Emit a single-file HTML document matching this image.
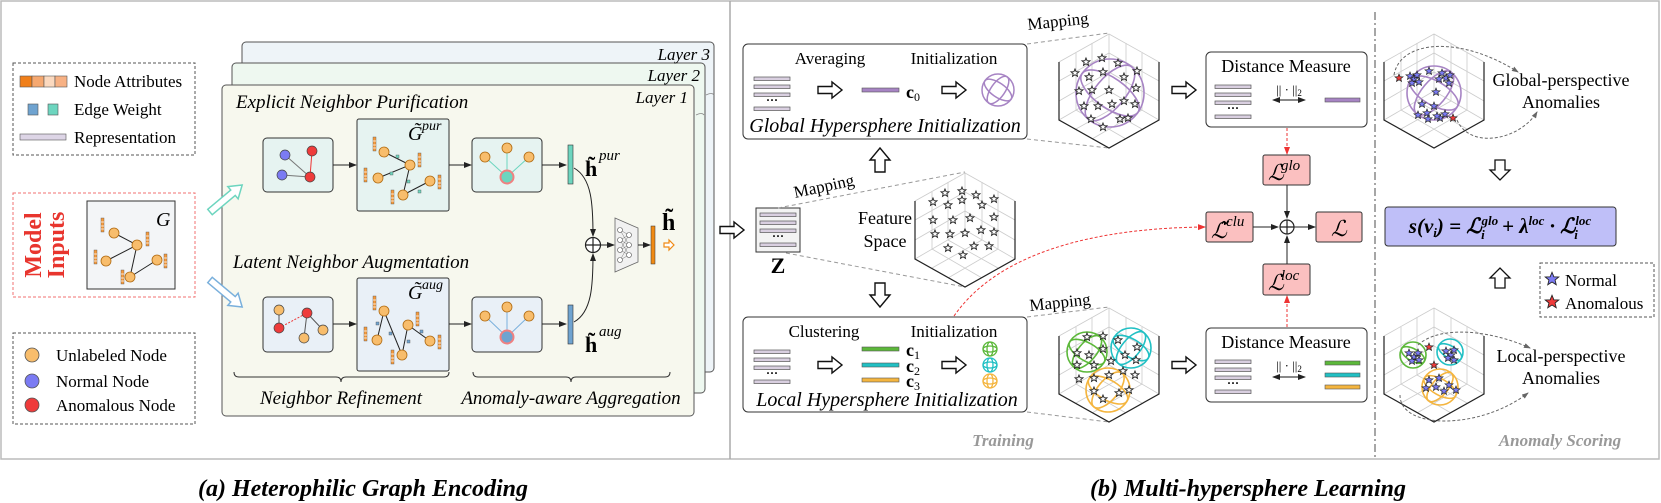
<!DOCTYPE html>
<html><head><meta charset="utf-8"><style>
html,body{margin:0;padding:0;background:#fff;}
svg{display:block;}
text{font-family:"Liberation Serif","Times New Roman",serif;}
</style></head><body>
<svg width="1661" height="503" viewBox="0 0 1661 503" xmlns="http://www.w3.org/2000/svg" font-family="Liberation Serif, serif">
<defs>
<marker id="ah" markerWidth="8" markerHeight="8" refX="7" refY="4" orient="auto" markerUnits="userSpaceOnUse"><path d="M0,1 L8,4 L0,7 z" fill="#222"/></marker>
<marker id="ahs" markerWidth="8" markerHeight="8" refX="1" refY="4" orient="auto" markerUnits="userSpaceOnUse"><path d="M8,1 L0,4 L8,7 z" fill="#222"/></marker>
<marker id="ahr" markerWidth="8" markerHeight="8" refX="7" refY="4" orient="auto" markerUnits="userSpaceOnUse"><path d="M0,1 L8,4 L0,7 z" fill="#e33"/></marker>
<marker id="ahg" markerWidth="7" markerHeight="7" refX="6" refY="3.5" orient="auto" markerUnits="userSpaceOnUse"><path d="M0,1 L7,3.5 L0,6 z" fill="#666"/></marker>
<path id="st" d="M0,-4 L1.1,-1.3 4,-1.2 1.8,0.6 2.5,3.4 0,1.8 -2.5,3.4 -1.8,0.6 -4,-1.2 -1.1,-1.3z"/>
<g id="cube">
  <g stroke="#ccc" stroke-width="0.8" fill="none">
    <path d="M-50,-29 L0,-57 L50,-29 M0,-57 L0,0 M-50,29 L0,0 L50,29"/>
    <path d="M-33,-38 L-33,19 M-17,-48 L-17,10 M17,-48 L17,10 M33,-38 L33,19"/>
    <path d="M-50,-10 L0,-38 L50,-10 M-50,10 L0,-19 L50,10"/>
    <path d="M-33,38 L17,10 M-17,48 L33,19 M33,38 L-17,10 M17,48 L-33,19"/>
  </g>
  <path d="M-50,-29 L-50,29 L0,57 L50,29 L50,-29" stroke="#222" stroke-width="1.2" fill="none"/>
</g>
<g id="bars">
  <rect x="0" y="0" width="36" height="3.5" fill="#d9cfe0" stroke="#555" stroke-width="0.7"/>
  <rect x="0" y="8" width="36" height="3.5" fill="#d9cfe0" stroke="#555" stroke-width="0.7"/>
  <rect x="0" y="16" width="36" height="3.5" fill="#d9cfe0" stroke="#555" stroke-width="0.7"/>
  <text x="18" y="27" font-size="12" text-anchor="middle" font-weight="bold">···</text>
  <rect x="0" y="30" width="36" height="3.5" fill="#d9cfe0" stroke="#555" stroke-width="0.7"/>
</g>
<g id="harrow"><path d="M0,-3.5 L14,-3.5 L14,-8 L24,0 L14,8 L14,3.5 L0,3.5 z" fill="#fff" stroke="#111" stroke-width="1.4"/></g>
<g id="attr"><rect x="0" y="0" width="3" height="14" fill="#f59a3c" stroke="#555" stroke-width="0.4"/><path d="M0,4 H3 M0,8 H3 M0,11 H3" stroke="#fff" stroke-width="0.8" fill="none"/></g>
</defs>

<rect x="1" y="1" width="1658" height="458" fill="none" stroke="#bbb" stroke-width="1.5"/>
<line x1="730" y1="1" x2="730" y2="459" stroke="#aaa" stroke-width="1.5"/>

<!-- ===== LEFT PANEL ===== -->
<rect x="13" y="63" width="182" height="92" fill="none" stroke="#555" stroke-dasharray="3,2"/>
<rect x="20" y="76" width="12" height="11" fill="#f07f1a" stroke="#555" stroke-width=".6"/>
<rect x="32" y="76" width="12" height="11" fill="#f5a870" stroke="#555" stroke-width=".6"/>
<rect x="44" y="76" width="11" height="11" fill="#fbd9bf" stroke="#555" stroke-width=".6"/>
<rect x="55" y="76" width="12" height="11" fill="#f7b184" stroke="#555" stroke-width=".6"/>
<text x="74" y="87" font-size="17">Node Attributes</text>
<rect x="28" y="104" width="10" height="11" fill="#6fa3d0" stroke="#555" stroke-width=".6"/>
<rect x="48" y="104" width="10" height="11" fill="#6dd5bf" stroke="#555" stroke-width=".6"/>
<text x="74" y="115" font-size="17">Edge Weight</text>
<rect x="20" y="134" width="46" height="6" fill="#ddd5e6" stroke="#555" stroke-width=".6"/>
<text x="74" y="143" font-size="17">Representation</text>

<rect x="13" y="193" width="182" height="104" fill="none" stroke="#f07070" stroke-dasharray="3,2"/>
<text transform="translate(41,245) rotate(-90)" font-size="24" font-weight="bold" fill="#e8352e" text-anchor="middle">Model</text>
<text transform="translate(64,245) rotate(-90)" font-size="24" font-weight="bold" fill="#e8352e" text-anchor="middle">Inputs</text>
<rect x="87" y="201" width="88" height="88" fill="#f3f5f7" stroke="#333" stroke-width="1"/>
<text x="156" y="226" font-size="20" font-style="italic">G</text>
<path d="M114,233 L137,245 L106,261 M137,245 L130,277 L157,260" stroke="#222" stroke-width="1" fill="none"/>
<g fill="#f8bd6c" stroke="#b06a10" stroke-width=".8"><circle cx="114" cy="233" r="5"/><circle cx="137" cy="245" r="5"/><circle cx="106" cy="261" r="5"/><circle cx="130" cy="277" r="5"/><circle cx="157" cy="260" r="5"/></g>
<use href="#attr" x="101" y="218"/><use href="#attr" x="146" y="232"/><use href="#attr" x="94" y="250"/><use href="#attr" x="121" y="270"/><use href="#attr" x="164" y="254"/>

<rect x="13" y="333" width="182" height="91" fill="none" stroke="#555" stroke-dasharray="3,2"/>
<circle cx="32" cy="355" r="7" fill="#f8bd6c" stroke="#555" stroke-width=".8"/>
<circle cx="32" cy="381" r="7" fill="#7b7bf3" stroke="#555" stroke-width=".8"/>
<circle cx="32" cy="405" r="7" fill="#ef3b3b" stroke="#555" stroke-width=".8"/>
<text x="56" y="361" font-size="17">Unlabeled Node</text>
<text x="56" y="387" font-size="17">Normal Node</text>
<text x="56" y="411" font-size="17">Anomalous Node</text>

<!-- layers -->
<rect x="242" y="42" width="472" height="330" rx="4" fill="#eef4f8" stroke="#555" stroke-width="1"/>
<rect x="232" y="63" width="473" height="330" rx="4" fill="#eef8f0" stroke="#555" stroke-width="1"/>
<rect x="222" y="85" width="472" height="331" rx="4" fill="#f7f8ee" stroke="#555" stroke-width="1"/>
<text x="710" y="60" font-size="17" font-style="italic" text-anchor="end">Layer 3</text>
<text x="700" y="81" font-size="17" font-style="italic" text-anchor="end">Layer 2</text>
<text x="688" y="103" font-size="17" font-style="italic" text-anchor="end">Layer 1</text>
<path d="M706,95 q6,-3 8,0" stroke="#888" fill="none" stroke-width=".8"/>
<path d="M696,115 q6,-3 8,0" stroke="#888" fill="none" stroke-width=".8"/>

<g transform="translate(210,212) rotate(-40)"><path d="M0,-3.5 L30,-3.5 L30,-8 L42,0 L30,8 L30,3.5 L0,3.5 z" fill="#fff" stroke="#6dd5bf" stroke-width="1.5"/></g>
<g transform="translate(210,280) rotate(40)"><path d="M0,-3.5 L30,-3.5 L30,-8 L42,0 L30,8 L30,3.5 L0,3.5 z" fill="#fff" stroke="#7ab0dc" stroke-width="1.5"/></g>

<text x="236" y="108" font-size="19" font-style="italic">Explicit Neighbor Purification</text>
<text x="233" y="268" font-size="19" font-style="italic">Latent Neighbor Augmentation</text>

<!-- row1 -->
<rect x="263" y="138" width="70" height="54" rx="4" fill="#e6f3f1" stroke="#333"/>
<path d="M285,155 L310,177 M282,175 L310,177" stroke="#777" fill="none"/><path d="M312,151 L310,177" stroke="#e33" fill="none"/>
<circle cx="285" cy="155" r="5" fill="#7b7bf3" stroke="#444" stroke-width=".7"/>
<circle cx="282" cy="175" r="5" fill="#7b7bf3" stroke="#444" stroke-width=".7"/>
<circle cx="312" cy="151" r="5" fill="#ef3b3b" stroke="#444" stroke-width=".7"/>
<circle cx="310" cy="177" r="5" fill="#ef3b3b" stroke="#444" stroke-width=".7"/>
<line x1="333" y1="165" x2="356" y2="165" stroke="#222" marker-end="url(#ah)"/>
<rect x="357" y="119" width="92" height="92" rx="2" fill="#e6f3f1" stroke="#333"/>
<text x="408" y="140" font-size="20" font-style="italic">G̃</text><text x="422" y="130" font-size="14" font-style="italic">pur</text>
<path d="M384,152 L410,165 L378,178 M410,165 L403,195 L430,181" stroke="#222" fill="none"/>
<g fill="#f8bd6c" stroke="#b06a10" stroke-width=".8"><circle cx="384" cy="152" r="5"/><circle cx="410" cy="165" r="5"/><circle cx="378" cy="178" r="5"/><circle cx="403" cy="195" r="5"/><circle cx="430" cy="181" r="5"/></g>
<use href="#attr" x="373" y="137"/><use href="#attr" x="418" y="153"/><use href="#attr" x="364" y="168"/><use href="#attr" x="391" y="190"/><use href="#attr" x="438" y="175"/>
<g fill="#6dd5bf" stroke="#555" stroke-width=".4"><rect x="396" y="155" width="3" height="3"/><rect x="390" y="172" width="3" height="3"/><rect x="407" y="180" width="3" height="3"/><rect x="418" y="190" width="3" height="3"/></g>
<line x1="449" y1="165" x2="471" y2="165" stroke="#222" marker-end="url(#ah)"/>
<rect x="472" y="138" width="70" height="54" rx="4" fill="#e6f3f1" stroke="#333"/>
<path d="M485,157 L507,177 M507,148 L507,177 M529,157 L507,177" stroke="#6dd5bf" fill="none"/>
<g fill="#f8bd6c" stroke="#b06a10" stroke-width=".8"><circle cx="485" cy="157" r="5"/><circle cx="507" cy="148" r="5"/><circle cx="529" cy="157" r="5"/></g>
<circle cx="507" cy="177" r="6.5" fill="#6dd5bf" stroke="#f08080" stroke-width="2"/>
<line x1="542" y1="165" x2="566" y2="165" stroke="#222" marker-end="url(#ah)"/>
<rect x="568" y="145" width="5" height="39" fill="#6dd5bf" stroke="#333" stroke-width=".6"/>
<text x="585" y="176" font-size="22" font-weight="bold">h̃</text><text x="599" y="160" font-size="15" font-style="italic">pur</text>

<!-- row2 -->
<rect x="263" y="297" width="70" height="55" rx="4" fill="#e9f0f7" stroke="#333"/>
<path d="M279,310 L279,328 M307,313 L304,338 M307,313 L323,330" stroke="#555" fill="none"/>
<path d="M279,328 L307,313" stroke="#e33" stroke-dasharray="2,1.5" fill="none"/>
<g stroke="#444" stroke-width=".7"><circle cx="279" cy="310" r="5" fill="#f8bd6c"/><circle cx="307" cy="313" r="5" fill="#ef3b3b"/><circle cx="279" cy="328" r="5" fill="#ef3b3b"/><circle cx="304" cy="338" r="5" fill="#f8bd6c"/><circle cx="323" cy="330" r="5" fill="#f8bd6c"/></g>
<line x1="333" y1="324" x2="356" y2="324" stroke="#222" marker-end="url(#ah)"/>
<rect x="357" y="278" width="92" height="93" rx="2" fill="#e9f0f7" stroke="#333"/>
<text x="408" y="299" font-size="20" font-style="italic">G̃</text><text x="422" y="289" font-size="14" font-style="italic">aug</text>
<path d="M384,311 L377,340 M384,311 L402,355 L408,325 L430,341" stroke="#222" fill="none"/>
<g fill="#f8bd6c" stroke="#b06a10" stroke-width=".8"><circle cx="384" cy="311" r="5"/><circle cx="408" cy="325" r="5"/><circle cx="377" cy="340" r="5"/><circle cx="402" cy="355" r="5"/><circle cx="430" cy="341" r="5"/></g>
<use href="#attr" x="373" y="296"/><use href="#attr" x="416" y="312"/><use href="#attr" x="364" y="327"/><use href="#attr" x="391" y="350"/><use href="#attr" x="438" y="335"/>
<g fill="#6fa3d0" stroke="#555" stroke-width=".4"><rect x="376" y="322" width="3" height="3"/><rect x="389" y="332" width="3" height="3"/><rect x="420" y="330" width="3" height="3"/><rect x="407" y="340" width="3" height="3"/></g>
<line x1="449" y1="324" x2="471" y2="324" stroke="#222" marker-end="url(#ah)"/>
<rect x="472" y="297" width="70" height="55" rx="4" fill="#e9f0f7" stroke="#333"/>
<path d="M485,316 L507,337 M507,307 L507,337 M529,316 L507,337" stroke="#7ab0dc" fill="none"/>
<g fill="#f8bd6c" stroke="#b06a10" stroke-width=".8"><circle cx="485" cy="316" r="5"/><circle cx="507" cy="307" r="5"/><circle cx="529" cy="316" r="5"/></g>
<circle cx="507" cy="337" r="6.5" fill="#6fa3d0" stroke="#f08080" stroke-width="2"/>
<line x1="542" y1="324" x2="566" y2="324" stroke="#222" marker-end="url(#ah)"/>
<rect x="568" y="305" width="5" height="39" fill="#6fa3d0" stroke="#333" stroke-width=".6"/>
<text x="585" y="352" font-size="22" font-weight="bold">h̃</text><text x="599" y="336" font-size="15" font-style="italic">aug</text>

<!-- aggregation -->
<path d="M574,168 C592,178 593,205 593,236" stroke="#222" fill="none" marker-end="url(#ah)"/>
<path d="M574,322 C592,312 593,285 593,254" stroke="#222" fill="none" marker-end="url(#ah)"/>
<circle cx="593" cy="245" r="7.5" fill="#fff" stroke="#222" stroke-width="1.2"/>
<path d="M585.5,245 H600.5 M593,237.5 V252.5" stroke="#222" stroke-width="1.2" fill="none"/>
<line x1="600" y1="245" x2="614" y2="245" stroke="#222" marker-end="url(#ah)"/>
<path d="M615,218 L638,228 L638,262 L615,272 z" fill="#f1f1f1" stroke="#666" stroke-width=".8"/>
<path d="M620,230 L629,235 L620,240 L629,245 L620,250 L629,255 L620,260 M620,230 L629,245 L620,260 M620,240 L629,255 M620,250 L629,235" stroke="#777" stroke-width=".5" fill="none"/>
<g fill="#fff" stroke="#555" stroke-width=".6"><circle cx="620" cy="230" r="2.5"/><circle cx="620" cy="240" r="2.5"/><circle cx="620" cy="250" r="2.5"/><circle cx="620" cy="260" r="2.5"/><circle cx="629" cy="235" r="2.5"/><circle cx="629" cy="245" r="2.5"/><circle cx="629" cy="255" r="2.5"/></g>
<line x1="638" y1="245" x2="650" y2="245" stroke="#222" marker-end="url(#ah)"/>
<rect x="651" y="226" width="4" height="38" fill="#f08a14" stroke="#333" stroke-width=".5"/>
<text x="662" y="230" font-size="24" font-weight="bold">h̃</text>
<path d="M664,243 h5 v-3 l5,5 l-5,5 v-3 h-5 z" fill="#fff" stroke="#f08a14" stroke-width="1.2"/>

<path d="M234,372 q0,5 5,5 H336 q5,0 5,5 q0,-5 5,-5 H444 q5,0 5,-5" stroke="#333" fill="none"/>
<path d="M473,372 q0,5 5,5 H566 q5,0 5,5 q0,-5 5,-5 H665 q5,0 5,-5" stroke="#333" fill="none"/>
<text x="341" y="404" font-size="19" font-style="italic" text-anchor="middle">Neighbor Refinement</text>
<text x="571" y="404" font-size="19" font-style="italic" text-anchor="middle">Anomaly-aware Aggregation</text>

<!-- ===== RIGHT PANEL ===== -->
<use href="#harrow" x="720" y="230"/>

<rect x="743" y="44" width="284" height="95" rx="5" fill="#fff" stroke="#333"/>
<text x="830" y="64" font-size="17" text-anchor="middle">Averaging</text>
<text x="954" y="64" font-size="17" text-anchor="middle">Initialization</text>
<use href="#bars" x="754" y="77"/>
<use href="#harrow" x="818" y="90"/>
<rect x="862" y="88" width="37" height="4" fill="#a784c4" stroke="#555" stroke-width=".6"/>
<text x="906" y="98" font-size="18" font-weight="bold">c<tspan font-size="12" font-weight="normal" dy="3">0</tspan></text>
<use href="#harrow" x="942" y="90"/>
<g fill="none" stroke="#a784c4" stroke-width="1.5"><circle cx="998" cy="90" r="16"/><ellipse cx="998" cy="90" rx="16" ry="7" transform="rotate(35 998 90)"/><ellipse cx="998" cy="90" rx="16" ry="7" transform="rotate(-55 998 90)"/></g>
<text x="885" y="132" font-size="20" font-style="italic" text-anchor="middle">Global Hypersphere Initialization</text>

<path d="M875,172 v-12 h-5 l10,-12 l10,12 h-5 v12 z" fill="#fff" stroke="#111" stroke-width="1.4"/>
<path d="M875,283 v12 h-5 l10,12 l10,-12 h-5 v-12 z" fill="#fff" stroke="#111" stroke-width="1.4"/>

<rect x="756" y="208" width="44" height="44" fill="#f3f3f3" stroke="#333"/>
<use href="#bars" x="760" y="213"/>
<text x="778" y="273" font-size="22" font-weight="bold" text-anchor="middle">Z</text>
<text transform="translate(795,198) rotate(-12)" font-size="17">Mapping</text>
<path d="M778,208 L965,172 M786,253 L965,287" stroke="#999" stroke-dasharray="4,3" fill="none"/>
<text x="885" y="224" font-size="18" text-anchor="middle">Feature</text>
<text x="885" y="247" font-size="18" text-anchor="middle">Space</text>
<g transform="translate(965,230)"><use href="#cube"/>
<g fill="#fff" stroke="#222" stroke-width=".9">
<use href="#st" x="-20" y="-37"/><use href="#st" x="-3" y="-39"/><use href="#st" x="11" y="-35"/><use href="#st" x="29" y="-31"/>
<use href="#st" x="-32" y="-28"/><use href="#st" x="-17" y="-25"/><use href="#st" x="-3" y="-30"/><use href="#st" x="17" y="-25"/>
<use href="#st" x="-32" y="-10"/><use href="#st" x="-12" y="-10"/><use href="#st" x="5" y="-12"/><use href="#st" x="29" y="-13"/>
<use href="#st" x="-30" y="4"/><use href="#st" x="-15" y="4"/><use href="#st" x="0" y="3"/><use href="#st" x="16" y="0"/><use href="#st" x="29" y="2"/>
<use href="#st" x="-17" y="18"/><use href="#st" x="-2" y="25"/><use href="#st" x="9" y="16"/><use href="#st" x="24" y="16"/>
</g></g>

<path d="M1027,44 L1109,33 M1027,139 L1109,148" stroke="#999" stroke-dasharray="4,3" fill="none"/>
<text transform="translate(1028,30) rotate(-6)" font-size="17">Mapping</text>
<g transform="translate(1109,91)"><use href="#cube"/>
<g fill="none" stroke="#a784c4" stroke-width="1.6"><circle cx="1" cy="2" r="34"/><ellipse cx="1" cy="2" rx="34" ry="15" transform="rotate(35 1 2)"/><ellipse cx="1" cy="2" rx="34" ry="15" transform="rotate(-50 1 2)"/></g>
<g fill="#fff" stroke="#222" stroke-width=".9">
<use href="#st" x="-23" y="-29"/><use href="#st" x="-7" y="-33"/><use href="#st" x="9" y="-28"/><use href="#st" x="28" y="-20"/>
<use href="#st" x="-34" y="-18"/><use href="#st" x="-20" y="-14"/><use href="#st" x="-6" y="-19"/><use href="#st" x="15" y="-14"/>
<use href="#st" x="-30" y="0"/><use href="#st" x="-17" y="-1"/><use href="#st" x="0" y="-1"/><use href="#st" x="27" y="-3"/>
<use href="#st" x="-25" y="15"/><use href="#st" x="-11" y="15"/><use href="#st" x="3" y="13"/><use href="#st" x="15" y="10"/><use href="#st" x="26" y="13"/>
<use href="#st" x="-18" y="28"/><use href="#st" x="-6" y="36"/><use href="#st" x="11" y="28"/><use href="#st" x="19" y="27"/>
</g></g>
<use href="#harrow" x="1172" y="90"/>

<rect x="743" y="317" width="284" height="95" rx="5" fill="#fff" stroke="#333"/>
<text x="824" y="337" font-size="17" text-anchor="middle">Clustering</text>
<text x="954" y="337" font-size="17" text-anchor="middle">Initialization</text>
<use href="#bars" x="754" y="350"/>
<use href="#harrow" x="818" y="365"/>
<rect x="862" y="347" width="37" height="4" fill="#5cb83a" stroke="#555" stroke-width=".6"/>
<rect x="862" y="363" width="37" height="4" fill="#21c0c4" stroke="#555" stroke-width=".6"/>
<rect x="862" y="378" width="37" height="4" fill="#f4b53f" stroke="#555" stroke-width=".6"/>
<text x="906" y="356" font-size="18" font-weight="bold">c<tspan font-size="12" font-weight="normal" dy="3">1</tspan></text>
<text x="906" y="372" font-size="18" font-weight="bold">c<tspan font-size="12" font-weight="normal" dy="3">2</tspan></text>
<text x="906" y="387" font-size="18" font-weight="bold">c<tspan font-size="12" font-weight="normal" dy="3">3</tspan></text>
<use href="#harrow" x="942" y="365"/>
<g fill="none" stroke-width="1.3">
<g stroke="#5cb83a"><circle cx="990" cy="349" r="7"/><ellipse cx="990" cy="349" rx="7" ry="3"/><ellipse cx="990" cy="349" rx="3" ry="7"/></g>
<g stroke="#21c0c4"><circle cx="990" cy="365" r="7"/><ellipse cx="990" cy="365" rx="7" ry="3"/><ellipse cx="990" cy="365" rx="3" ry="7"/></g>
<g stroke="#f4b53f"><circle cx="990" cy="381" r="7"/><ellipse cx="990" cy="381" rx="7" ry="3"/><ellipse cx="990" cy="381" rx="3" ry="7"/></g>
</g>
<text x="887" y="406" font-size="20" font-style="italic" text-anchor="middle">Local Hypersphere Initialization</text>

<path d="M1027,317 L1109,307 M1027,412 L1109,422" stroke="#999" stroke-dasharray="4,3" fill="none"/>
<text transform="translate(1030,311) rotate(-6)" font-size="17">Mapping</text>
<g transform="translate(1109,365)"><use href="#cube"/>
<g fill="none" stroke-width="1.6">
<g stroke="#5cb83a"><circle cx="-22" cy="-13" r="20"/><ellipse cx="-22" cy="-13" rx="20" ry="9" transform="rotate(30 -22 -13)"/><ellipse cx="-22" cy="-13" rx="20" ry="9" transform="rotate(-50 -22 -13)"/></g>
<g stroke="#21c0c4"><circle cx="22" cy="-17" r="20"/><ellipse cx="22" cy="-17" rx="20" ry="9" transform="rotate(30 22 -17)"/><ellipse cx="22" cy="-17" rx="20" ry="9" transform="rotate(-50 22 -17)"/></g>
<g stroke="#f4b53f"><circle cx="-1" cy="25" r="22"/><ellipse cx="-1" cy="25" rx="22" ry="10" transform="rotate(30 -1 25)"/><ellipse cx="-1" cy="25" rx="22" ry="10" transform="rotate(-50 -1 25)"/></g>
</g>
<g fill="#fff" stroke="#222" stroke-width=".9">
<use href="#st" x="-22" y="-28"/><use href="#st" x="-6" y="-29"/><use href="#st" x="9" y="-25"/><use href="#st" x="28" y="-18"/>
<use href="#st" x="-32" y="-12"/><use href="#st" x="-20" y="-10"/><use href="#st" x="-6" y="-16"/><use href="#st" x="16" y="-10"/>
<use href="#st" x="-32" y="0"/><use href="#st" x="-15" y="0"/><use href="#st" x="2" y="-4"/><use href="#st" x="27" y="-5"/>
<use href="#st" x="-30" y="14"/><use href="#st" x="-15" y="13"/><use href="#st" x="0" y="10"/><use href="#st" x="14" y="6"/><use href="#st" x="26" y="10"/>
<use href="#st" x="-15" y="26"/><use href="#st" x="-6" y="34"/><use href="#st" x="10" y="28"/><use href="#st" x="20" y="25"/>
</g></g>
<use href="#harrow" x="1172" y="365"/>

<rect x="1206" y="52" width="161" height="75" rx="5" fill="#fff" stroke="#333"/>
<text x="1286" y="72" font-size="18" text-anchor="middle">Distance Measure</text>
<use href="#bars" x="1215" y="85"/>
<text x="1289" y="94" font-size="13" text-anchor="middle">|| · ||<tspan font-size="9" dy="2">2</tspan></text>
<path d="M1273,100 H1305" stroke="#111" fill="none" marker-end="url(#ah)" marker-start="url(#ahs)"/>
<rect x="1325" y="98" width="35" height="4" fill="#a784c4" stroke="#555" stroke-width=".6"/>

<rect x="1206" y="328" width="161" height="74" rx="5" fill="#fff" stroke="#333"/>
<text x="1286" y="348" font-size="18" text-anchor="middle">Distance Measure</text>
<use href="#bars" x="1215" y="360"/>
<text x="1289" y="370" font-size="13" text-anchor="middle">|| · ||<tspan font-size="9" dy="2">2</tspan></text>
<path d="M1273,377 H1305" stroke="#111" fill="none" marker-end="url(#ah)" marker-start="url(#ahs)"/>
<rect x="1325" y="361" width="35" height="4" fill="#5cb83a" stroke="#555" stroke-width=".6"/>
<rect x="1325" y="373" width="35" height="4" fill="#21c0c4" stroke="#555" stroke-width=".6"/>
<rect x="1325" y="385" width="35" height="4" fill="#f4b53f" stroke="#555" stroke-width=".6"/>

<path d="M1287,128 V154" stroke="#e33" stroke-dasharray="3,2" fill="none" marker-end="url(#ahr)"/>
<path d="M1287,327 V296" stroke="#e33" stroke-dasharray="3,2" fill="none" marker-end="url(#ahr)"/>
<path d="M954,316 C1000,250 1100,228 1205,227" stroke="#e33" stroke-dasharray="3,2" fill="none" marker-end="url(#ahr)"/>
<g fill="#fbc0c0" stroke="#333">
<rect x="1263" y="155" width="47" height="30" rx="2"/>
<rect x="1206" y="212" width="47" height="30" rx="2"/>
<rect x="1316" y="212" width="46" height="30" rx="2"/>
<rect x="1263" y="264" width="47" height="31" rx="2"/>
</g>
<text x="1268" y="180" font-size="22" font-style="italic">ℒ</text><text x="1281" y="170" font-size="15" font-style="italic">glo</text>
<text x="1211" y="238" font-size="22" font-style="italic">ℒ̃</text><text x="1226" y="226" font-size="15" font-style="italic">clu</text>
<text x="1331" y="236" font-size="22" font-style="italic">ℒ</text>
<text x="1268" y="290" font-size="22" font-style="italic">ℒ</text><text x="1281" y="280" font-size="15" font-style="italic">loc</text>
<path d="M1287,185 V218" stroke="#222" fill="none" marker-end="url(#ah)"/>
<path d="M1287,264 V236" stroke="#222" fill="none" marker-end="url(#ah)"/>
<path d="M1253,227 H1278" stroke="#222" fill="none" marker-end="url(#ah)"/>
<path d="M1294,227 H1315" stroke="#222" fill="none" marker-end="url(#ah)"/>
<circle cx="1287" cy="227" r="7" fill="#fff" stroke="#222" stroke-width="1.2"/>
<path d="M1280,227 H1294 M1287,220 V234" stroke="#222" stroke-width="1.2" fill="none"/>

<line x1="1375" y1="12" x2="1375" y2="459" stroke="#888" stroke-width="1.5" stroke-dasharray="8,3,2,3"/>

<g transform="translate(1434,91)"><use href="#cube"/>
<g fill="none" stroke="#a784c4" stroke-width="1.6"><circle cx="0" cy="2" r="27"/><ellipse cx="0" cy="2" rx="27" ry="12" transform="rotate(30 0 2)"/><ellipse cx="0" cy="2" rx="27" ry="12" transform="rotate(-50 0 2)"/></g>
<g fill="#7b7bf3" stroke="#222" stroke-width=".7">
<use href="#st" x="-24" y="-15"/><use href="#st" x="-20" y="-12"/><use href="#st" x="-22" y="-8"/><use href="#st" x="-17" y="-16"/><use href="#st" x="-15" y="-9"/>
<use href="#st" x="-5" y="-20"/><use href="#st" x="8" y="-18"/><use href="#st" x="12" y="-13"/><use href="#st" x="16" y="-16"/><use href="#st" x="15" y="-8"/><use href="#st" x="5" y="-12"/>
<use href="#st" x="2" y="1"/><use href="#st" x="-12" y="13"/><use href="#st" x="0" y="15"/>
<use href="#st" x="-16" y="24"/><use href="#st" x="-7" y="22"/><use href="#st" x="-6" y="28"/><use href="#st" x="6" y="27"/><use href="#st" x="11" y="23"/><use href="#st" x="3" y="25"/>
</g>
<g fill="#ef3b3b" stroke="#222" stroke-width=".7"><use href="#st" x="-35" y="-13"/><use href="#st" x="19" y="27"/></g>
</g>
<path d="M1394,75 C1400,40 1460,35 1518,72" stroke="#666" stroke-dasharray="3,2" fill="none" marker-end="url(#ahg)"/>
<path d="M1457,120 C1470,150 1520,140 1537,112" stroke="#666" stroke-dasharray="3,2" fill="none" marker-end="url(#ahg)"/>
<text x="1561" y="86" font-size="18" text-anchor="middle">Global-perspective</text>
<text x="1561" y="108" font-size="18" text-anchor="middle">Anomalies</text>

<path d="M1495,160 v10 h-5 l10,10 l10,-10 h-5 v-10 z" fill="#fff" stroke="#111" stroke-width="1.3"/>
<rect x="1385" y="207" width="231" height="39" rx="3" fill="#bfbff8" stroke="#333"/>
<text x="1500" y="233" font-size="21" font-weight="bold" font-style="italic" text-anchor="middle">s(v<tspan font-size="13" dy="4">i</tspan><tspan dy="-4">) = ℒ</tspan><tspan font-size="13" dy="-8">glo</tspan><tspan font-size="13" dx="-17" dy="14">i</tspan><tspan dx="12" dy="-6"> + λ</tspan><tspan font-size="13" dy="-8">loc</tspan><tspan dy="8"> · ℒ</tspan><tspan font-size="13" dy="-8">loc</tspan><tspan font-size="13" dx="-17" dy="14">i</tspan></text>
<path d="M1495,288 v-10 h-5 l10,-10 l10,10 h-5 v10 z" fill="#fff" stroke="#111" stroke-width="1.3"/>

<rect x="1540" y="263" width="114" height="54" fill="#fff" stroke="#555" stroke-dasharray="3,2"/>
<text x="1565" y="286" font-size="17">Normal</text>
<text x="1565" y="309" font-size="17">Anomalous</text>
<g transform="translate(1552,279) scale(1.7)"><use href="#st" fill="#7b7bf3" stroke="#222" stroke-width=".5"/></g>
<g transform="translate(1552,302) scale(1.7)"><use href="#st" fill="#ef3b3b" stroke="#222" stroke-width=".5"/></g>

<g transform="translate(1434,365)"><use href="#cube"/>
<g fill="none" stroke-width="1.6">
<g stroke="#5cb83a"><circle cx="-21" cy="-10" r="13"/><ellipse cx="-21" cy="-10" rx="13" ry="6" transform="rotate(30 -21 -10)"/></g>
<g stroke="#21c0c4"><circle cx="16" cy="-13" r="13"/><ellipse cx="16" cy="-13" rx="13" ry="6" transform="rotate(30 16 -13)"/></g>
<g stroke="#f4b53f"><circle cx="6" cy="22" r="18"/><ellipse cx="6" cy="22" rx="18" ry="8" transform="rotate(30 6 22)"/><ellipse cx="6" cy="22" rx="18" ry="8" transform="rotate(-50 6 22)"/></g>
</g>
<g fill="#7b7bf3" stroke="#222" stroke-width=".7">
<use href="#st" x="-25" y="-12"/><use href="#st" x="-20" y="-8"/><use href="#st" x="-16" y="-12"/><use href="#st" x="-22" y="-4"/><use href="#st" x="-15" y="-5"/>
<use href="#st" x="12" y="-14"/><use href="#st" x="17" y="-10"/><use href="#st" x="20" y="-15"/><use href="#st" x="14" y="-7"/><use href="#st" x="20" y="-5"/>
<use href="#st" x="-5" y="15"/><use href="#st" x="5" y="13"/><use href="#st" x="-8" y="23"/><use href="#st" x="2" y="22"/><use href="#st" x="10" y="26"/><use href="#st" x="15" y="20"/><use href="#st" x="22" y="25"/>
</g>
<g fill="#ef3b3b" stroke="#222" stroke-width=".7"><use href="#st" x="-5" y="-18"/><use href="#st" x="0" y="0"/></g>
</g>
<path d="M1418,345 C1440,325 1490,330 1530,348" stroke="#666" stroke-dasharray="3,2" fill="none" marker-end="url(#ahg)"/>
<path d="M1400,395 C1400,430 1480,430 1528,393" stroke="#666" stroke-dasharray="3,2" fill="none" marker-end="url(#ahg)"/>
<text x="1561" y="362" font-size="18" text-anchor="middle">Local-perspective</text>
<text x="1561" y="384" font-size="18" text-anchor="middle">Anomalies</text>

<text x="1003" y="446" font-size="17" font-weight="bold" font-style="italic" fill="#999" text-anchor="middle">Training</text>
<text x="1560" y="446" font-size="17" font-weight="bold" font-style="italic" fill="#999" text-anchor="middle">Anomaly Scoring</text>

<text x="363" y="496" font-size="24" font-weight="bold" font-style="italic" text-anchor="middle">(a) Heterophilic Graph Encoding</text>
<text x="1248" y="496" font-size="24" font-weight="bold" font-style="italic" text-anchor="middle">(b) Multi-hypersphere Learning</text>
</svg>
</body></html>
